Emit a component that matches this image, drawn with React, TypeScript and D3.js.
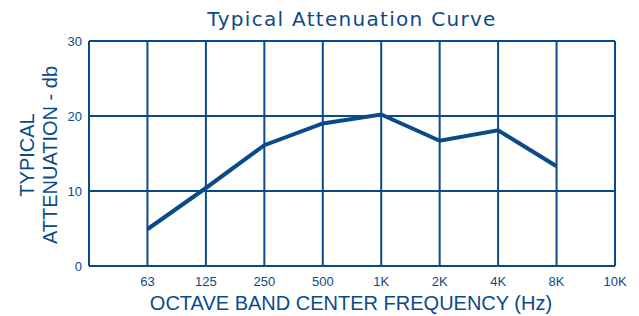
import React from "react";
import * as d3 from "d3";

const width = 639;
const height = 316;

const bands = ["63", "125", "250", "500", "1K", "2K", "4K", "8K", "10K"];
const attenuation = [4.9, 10.4, 16.1, 19.0, 20.2, 16.7, 18.1, 13.3];
const yTicks = [0, 10, 20, 30];

const blue = "#0b4a88";
const font = "'Liberation Sans', Arial, sans-serif";
const titleFont = "'DejaVu Sans', sans-serif";

export default function App() {
  const margin = { top: 41, right: 24, bottom: 50, left: 89 };
  const x = d3
    .scaleLinear()
    .domain([0, bands.length])
    .range([margin.left, width - margin.right]);
  const y = d3
    .scaleLinear()
    .domain([0, 30])
    .range([height - margin.bottom, margin.top]);

  const line = d3
    .line<number>()
    .x((_, i) => x(i + 1))
    .y((d) => y(d));

  return (
    <svg
      width={width}
      height={height}
      style={{ position: "absolute", left: 0, top: 0, background: "#fff" }}
    >
      <text
        x={352}
        y={26}
        fill={blue}
        textAnchor="middle"
        style={{ fontFamily: titleFont, fontSize: "20px", letterSpacing: "1.3px" }}
      >
        Typical Attenuation Curve
      </text>

      {/* grid */}
      <g stroke={blue} strokeWidth={2}>
        {yTicks.map((t) => (
          <line key={t} x1={x(0)} x2={x(bands.length)} y1={y(t)} y2={y(t)} />
        ))}
        {d3.range(bands.length + 1).map((i) => (
          <line key={i} x1={x(i)} x2={x(i)} y1={y(0)} y2={y(30)} />
        ))}
      </g>

      <path d={line(attenuation) || ""} fill="none" stroke={blue} strokeWidth={4} />

      {yTicks.map((t) => (
        <text
          key={t}
          x={x(0) - 7}
          y={y(t) + 5}
          fill={blue}
          textAnchor="end"
          style={{ fontFamily: font, fontSize: "13px" }}
        >
          {t}
        </text>
      ))}
      {bands.map((b, i) => (
        <text
          key={b}
          x={x(i + 1)}
          y={y(0) + 20}
          fill={blue}
          textAnchor="middle"
          style={{ fontFamily: font, fontSize: "13px" }}
        >
          {b}
        </text>
      ))}

      <text
        x={351}
        y={310}
        fill={blue}
        textAnchor="middle"
        style={{ fontFamily: font, fontSize: "20px" }}
      >
        OCTAVE BAND CENTER FREQUENCY (Hz)
      </text>
      <g transform="translate(0,155) rotate(-90)" fill={blue} style={{ fontFamily: font, fontSize: "20px" }}>
        <text x={0} y={34} textAnchor="middle">
          TYPICAL
        </text>
        <text x={0} y={57} textAnchor="middle">
          ATTENUATION - db
        </text>
      </g>
    </svg>
  );
}
